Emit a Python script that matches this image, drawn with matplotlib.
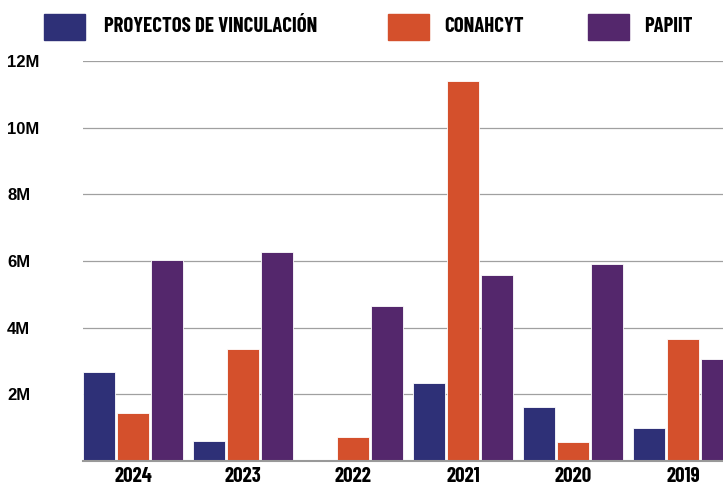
import numpy as np
import matplotlib
matplotlib.use('Agg')
import matplotlib.pyplot as plt
from matplotlib.patches import Rectangle

years = ['2024', '2023', '2022', '2021', '2020', '2019']
vinculacion = [2.68e6, 0.60e6, 0.0, 2.35e6, 1.63e6, 0.99e6]
conahcyt = [1.44e6, 3.35e6, 0.71e6, 11.41e6, 0.56e6, 3.67e6]
papiit = [6.02e6, 6.27e6, 4.66e6, 5.59e6, 5.91e6, 3.06e6]

series_names = ['PROYECTOS DE VINCULACIÓN', 'CONAHCYT', 'PAPIIT']
colors = ['#2E3077', '#D4502C', '#54276C']
yticks = [2e6, 4e6, 6e6, 8e6, 10e6, 12e6]
ytick_labels = ['2M', '4M', '6M', '8M', '10M', '12M']

# condensed display face, with fallbacks if it is missing
condensed = ['Barlow Condensed', 'Bebas Neue', 'Archivo Narrow', 'Liberation Sans', 'DejaVu Sans']
W, H = 723, 486

fig = plt.figure(figsize=(W / 100, H / 100), dpi=100)
ax = fig.add_axes([83 / W, 25 / H, 1 - 83 / W, 400 / H])

x = np.arange(len(years))
width = 0.29
step = 0.306
for i, (vals, col) in enumerate(zip([vinculacion, conahcyt, papiit], colors)):
    ax.bar(x + (i - 1) * step, vals, width, color=col, edgecolor='white',
           linewidth=0.6, zorder=3)

ax.set_xlim(-0.455, 5.364)
ax.set_ylim(0, 12e6)

ax.set_yticks(yticks)
ax.set_yticklabels(ytick_labels, family=['Liberation Sans', 'DejaVu Sans'],
                   fontweight='bold', fontsize=12)
ax.set_xticks(x)
ax.set_xticklabels(years, family=condensed, fontweight='bold', fontsize=15)
ax.tick_params(axis='y', length=0, pad=0)
for lab in ax.get_yticklabels():
    lab.set_horizontalalignment('left')
    lab.set_x(-76 / (W - 83))
ax.tick_params(axis='x', length=0, pad=4)

ax.grid(axis='y', color='#a0a0a0', linewidth=0.9, zorder=0)
for s in ['top', 'right', 'left']:
    ax.spines[s].set_visible(False)
ax.spines['bottom'].set_color('#999999')
ax.spines['bottom'].set_linewidth(1.5)
ax.spines['bottom'].set_zorder(4)

# legend
swatch_x = [44, 388, 588]
text_x = [104, 444, 644]
for sx, tx, name, col in zip(swatch_x, text_x, series_names, colors):
    fig.patches.append(Rectangle((sx / W, 1 - 40 / H), 41 / W, 26 / H,
                                 transform=fig.transFigure, color=col))
    fig.text(tx / W, 1 - 27 / H, name, family=condensed, fontweight='bold',
             fontsize=15, va='center', ha='left')

fig.savefig('out.png', dpi=100)
